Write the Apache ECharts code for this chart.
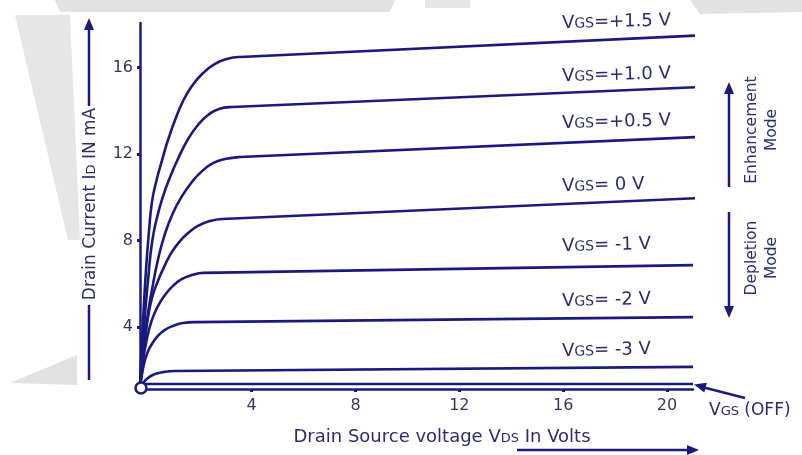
<!DOCTYPE html>
<html><head><meta charset="utf-8">
<script src="https://cdn.jsdelivr.net/npm/echarts@6.0.0/dist/echarts.min.js"></script>
<style>html,body{margin:0;padding:0;background:#fff}#c{width:802px;height:455px}</style>
</head><body><div id="c"></div>
<script>
// ---- data (x = VDS in volts, y = ID in mA) ----
const xTicks = [4, 8, 12, 16, 20];
const yTicks = [4, 8, 12, 16];
const curveLabels = ['=+1.5 V', '=+1.0 V', '=+0.5 V', '= 0 V', '= -1 V', '= -2 V', '= -3 V'];
const vgsP15 = [[-0.30,1.15],[-0.26,2.49],[-0.18,4.34],[-0.07,6.64],[0.05,8.49],[0.16,9.78],[0.32,10.71],[0.55,11.72],[0.78,12.65],[1.05,13.57],[1.36,14.45],[1.70,15.14],[2.13,15.74],[2.59,16.16],[3.05,16.39],[3.55,16.48],[21.46,17.49]];
const vgsP10 = [[-0.30,1.15],[-0.22,2.72],[-0.11,4.57],[0.01,6.18],[0.16,7.89],[0.35,9.04],[0.59,10.06],[0.86,10.94],[1.16,11.77],[1.55,12.69],[1.93,13.34],[2.32,13.80],[2.74,14.08],[3.24,14.17],[21.15,15.09]];
const vgsP05 = [[-0.30,1.15],[-0.18,2.72],[-0.03,4.34],[0.16,5.72],[0.39,7.11],[0.66,8.31],[0.97,9.28],[1.32,10.06],[1.70,10.71],[2.09,11.21],[2.51,11.58],[2.97,11.77],[3.55,11.86],[21.08,12.78]];
const vgs0   = [[-0.30,1.15],[-0.22,2.26],[-0.11,3.41],[0.01,4.47],[0.16,5.35],[0.39,6.14],[0.66,6.87],[0.93,7.48],[1.24,7.98],[1.55,8.35],[1.93,8.68],[2.40,8.91],[2.86,9.00],[23.09,10.06]];
const vgsM1  = [[-0.30,1.15],[-0.18,2.49],[-0.03,3.50],[0.16,4.34],[0.39,4.98],[0.66,5.49],[0.97,5.91],[1.32,6.23],[1.70,6.41],[2.13,6.51],[21.00,6.87]];
const vgsM2  = [[-0.30,1.15],[-0.18,2.12],[-0.03,2.77],[0.16,3.23],[0.39,3.60],[0.66,3.88],[0.97,4.06],[1.36,4.20],[1.82,4.24],[21.00,4.47]];
const vgsM3  = [[-0.30,1.15],[-0.15,1.47],[0.05,1.70],[0.28,1.84],[0.59,1.93],[1.05,1.98],[21.00,2.17]];
const vgsOff = [[-0.30,1.38],[21.00,1.38]];
const curves = [vgsP15, vgsP10, vgsP05, vgs0, vgsM1, vgsM2, vgsM3];

// ---- styling ----
const NAVY = '#1a1a7e';
const TXT = '#2a2d72';
const FONT = '"DejaVu Sans", Verdana, sans-serif';

const chart = echarts.init(document.getElementById('c'), null, {renderer: 'canvas'});

function arrowHead(tipX, tipY, dx, dy, len, half) {
  const n = Math.hypot(dx, dy); const ux = dx / n, uy = dy / n;
  const bx = tipX - ux * len, by = tipY - uy * len;
  return {type: 'polygon', z: 100, shape: {points: [[tipX, tipY], [bx - uy * half, by + ux * half], [bx + uy * half, by - ux * half]]}, style: {fill: NAVY}};
}
function seg(x1, y1, x2, y2, w) {
  return {type: 'line', z: 100, shape: {x1, y1, x2, y2}, style: {stroke: NAVY, lineWidth: w || 2.5}};
}
function richSub(big, small) {
  return {
    v: {fontSize: big, fontFamily: FONT, fill: TXT, lineHeight: big + 3, verticalAlign: 'bottom'},
    s: {fontSize: small, fontFamily: FONT, fill: TXT, lineHeight: big + 3, verticalAlign: 'bottom', padding: [0, 0, 1, 0]}
  };
}
const labelY = [22, 75, 122, 185, 245, 300, 350];
const labelGraphics = curveLabels.map((t, i) => ({
  type: 'text', z: 100, x: 562, y: labelY[i], rotation: 0.025,
  style: {text: '{v|V}{s|GS}{v|' + t + '}', rich: richSub(18, 14), align: 'left', verticalAlign: 'middle'}
}));

const watermark = [
  {type: 'polygon', z: -10, shape: {points: [[55,0],[395,0],[390,12],[60,12]]}, style: {fill: '#e2e2e2'}},
  {type: 'polygon', z: -10, shape: {points: [[425,0],[470,0],[470,8],[425,8]]}, style: {fill: '#e6e6e6'}},
  {type: 'polygon', z: -10, shape: {points: [[690,0],[802,0],[802,12],[700,14]]}, style: {fill: '#e2e2e2'}},
  {type: 'polygon', z: -10, shape: {points: [[15,15],[70,15],[80,240],[68,240]]}, style: {fill: '#e6e6e6'}},
  {type: 'polygon', z: -10, shape: {points: [[10,383],[77,355],[77,385]]}, style: {fill: '#e2e2e2'}}
];

const option = {
  backgroundColor: '#ffffff',
  animation: false,
  grid: {left: 140, top: 23, width: 553, height: 366, containLabel: false},
  xAxis: {
    type: 'value', min: -0.3, max: 21.0,
    axisLine: {show: true, onZero: false, lineStyle: {color: NAVY, width: 2.5}},
    axisTick: {show: true, customValues: xTicks, length: 3, lineStyle: {color: NAVY, width: 3}},
    axisLabel: {show: true, customValues: xTicks, margin: 9, color: '#34375f', fontSize: 16, fontFamily: FONT},
    splitLine: {show: false}
  },
  yAxis: {
    type: 'value', min: 1.15, max: 18.05,
    axisLine: {show: true, onZero: false, lineStyle: {color: NAVY, width: 2.5}},
    axisTick: {show: true, customValues: yTicks, length: 3, lineStyle: {color: NAVY, width: 3}},
    axisLabel: {show: true, customValues: yTicks, margin: 7, color: '#34375f', fontSize: 16, fontFamily: FONT},
    splitLine: {show: false}
  },
  series: curves.map((d, i) => ({
    type: 'line', name: 'VGS' + curveLabels[i], data: d, smooth: 0.5, clip: false,
    showSymbol: false, lineStyle: {color: NAVY, width: 2.6}, z: 5
  })).concat([{
    type: 'line', name: 'VGS (OFF)', data: vgsOff, clip: false, showSymbol: false,
    lineStyle: {color: NAVY, width: 2.5}, z: 5
  }]),
  graphic: watermark.concat(labelGraphics).concat([
    // origin circle
    {type: 'circle', z: 110, shape: {cx: 141, cy: 388, r: 5.5}, style: {fill: '#fff', stroke: NAVY, lineWidth: 2.5}},
    // y title + arrow
    {type: 'text', z: 100, x: 89, y: 204, rotation: Math.PI / 2,
      style: {text: '{v|Drain Current I}{s|D}{v| IN mA}', align: 'center', verticalAlign: 'middle', rich: richSub(17, 13)}},
    seg(89, 106, 89, 28), arrowHead(89, 18, 0, -1, 12, 5),
    seg(89, 305, 89, 380),
    // x title + arrow
    {type: 'text', z: 100, x: 442, y: 436,
      style: {text: '{v|Drain Source voltage V}{s|DS}{v| In Volts}', align: 'center', verticalAlign: 'middle', rich: richSub(18, 13)}},
    seg(517, 450, 688, 450), arrowHead(699, 450, 1, 0, 12, 5),
    // enhancement / depletion
    seg(729, 187, 729, 92), arrowHead(729, 82, 0, -1, 12, 5),
    seg(729, 212, 729, 306), arrowHead(729, 318, 0, 1, 12, 5),
    {type: 'text', z: 100, x: 762, y: 130, rotation: Math.PI / 2,
      style: {text: 'Enhancement\nMode', align: 'center', verticalAlign: 'middle', fontSize: 15.5, fontFamily: FONT, fill: TXT, lineHeight: 20}},
    {type: 'text', z: 100, x: 762, y: 258, rotation: Math.PI / 2,
      style: {text: 'Depletion\nMode', align: 'center', verticalAlign: 'middle', fontSize: 15.5, fontFamily: FONT, fill: TXT, lineHeight: 20}},
    // VGS(OFF)
    seg(745, 398, 702, 387), arrowHead(694, 384.5, -1, -0.27, 12, 5),
    {type: 'text', z: 100, x: 709, y: 409,
      style: {text: '{v|V}{s|GS}{v| (OFF)}', align: 'left', verticalAlign: 'middle', rich: richSub(17, 13)}}
  ])
};
chart.setOption(option);
</script>
</body></html>
